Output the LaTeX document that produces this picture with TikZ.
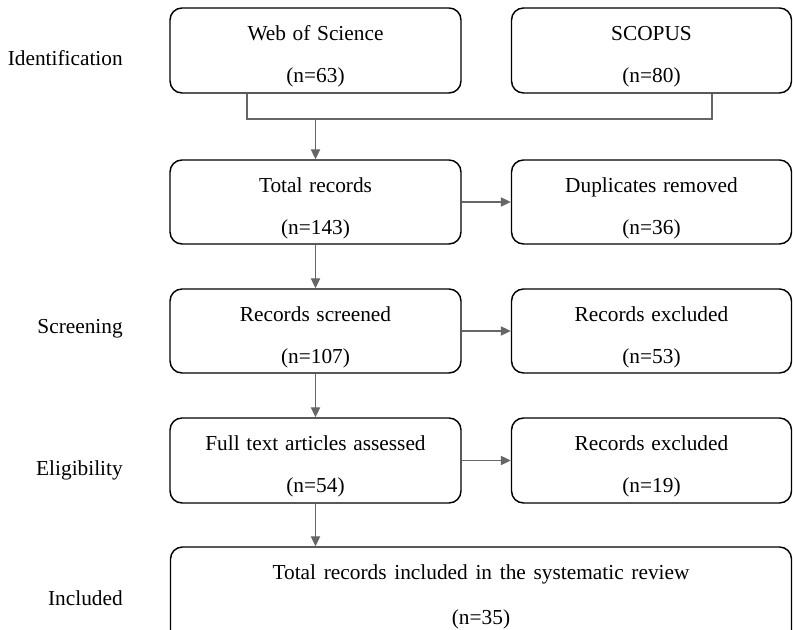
\documentclass[tikz,border=0pt]{standalone}
\usepackage{fontspec}
\setmainfont{Liberation Serif}
\usetikzlibrary{arrows.meta,calc}
\definecolor{conncol}{HTML}{666666}
\newcommand\twolines[3][20pt]{\rule{0pt}{#1}#2\\#3}
\newcommand\boxfont{\fontsize{16}{31.5}\selectfont\spaceskip 5pt plus 1pt minus 1pt\relax}
\newcommand\bigboxfont{\fontsize{16}{33.75}\selectfont\spaceskip 5.8pt plus 1pt minus 1pt\relax}
\tikzset{
  box/.style={draw=black, line width=1.1pt, rounded corners=9pt, align=center,
    inner sep=0pt, font=\boxfont, text=black},
  bigbox/.style={box, font=\bigboxfont},
  conn/.style={draw=conncol, line width=0.8pt},
  arr/.style={conn, -{Triangle[length=7.5pt,width=7pt,fill=conncol]}},
  phase/.style={anchor=east, inner sep=0pt, font=\fontsize{16}{19}\selectfont, text=black}
}
\begin{document}
\begin{tikzpicture}[x=0.75pt,y=-0.75pt]
\useasboundingbox[fill=white] (0,0) rectangle (793,630);
\clip (0,0) rectangle (793,630);
% phase labels
\node[phase] (lid) at (123,58) {Identification};
\node[phase] (lsc) at (123,329) {Screening};
\node[phase] (lel) at (123,470) {Eligibility};
\node[phase] (lin) at (123,598) {Included};
% boxes
\node[box, minimum width=291*0.75pt, minimum height=85*0.75pt] (wos) at (315.5,50.5) {\twolines{Web of Science}{(n=63)}};
\node[box, minimum width=280*0.75pt, minimum height=85*0.75pt] (sco) at (651.5,50.5) {\twolines{SCOPUS}{(n=80)}};
\node[box, minimum width=291*0.75pt, minimum height=84*0.75pt] (tot) at (315.5,202) {\twolines{Total records}{(n=143)}};
\node[box, minimum width=280*0.75pt, minimum height=84*0.75pt] (dup) at (651.5,202) {\twolines{Duplicates removed}{(n=36)}};
\node[box, minimum width=291*0.75pt, minimum height=84*0.75pt] (scr) at (315.5,331) {\twolines{Records screened}{(n=107)}};
\node[box, minimum width=280*0.75pt, minimum height=84*0.75pt] (ex1) at (651.5,331) {\twolines{Records excluded}{(n=53)}};
\node[box, minimum width=291*0.75pt, minimum height=85*0.75pt] (ful) at (315.5,460.5) {\twolines{Full text articles assessed}{(n=54)}};
\node[box, minimum width=280*0.75pt, minimum height=85*0.75pt] (ex2) at (651.5,460.5) {\twolines{Records excluded}{(n=19)}};
\node[bigbox, minimum width=621*0.75pt, minimum height=95*0.75pt] (inc) at (481,594.5) {\twolines[14.25pt]{Total records included in the systematic review}{(n=35)}};
% merge connector
\coordinate (wl) at (247,119);
\coordinate (sr) at (712,119);
\coordinate (m) at (315.5,119);
\draw[conn] (wos.south -| wl) -- (wl) -- (sr) -- (sco.south -| sr);
\draw[arr] (m) -- (tot.north);
% vertical flow
\draw[arr] (tot.south) -- (scr.north);
\draw[arr] (scr.south) -- (ful.north);
\draw[arr] (ful.south) -- (ful.south |- inc.north);
% horizontal
\draw[arr] (tot.east) -- (dup.west);
\draw[arr] (scr.east) -- (ex1.west);
\draw[arr] (ful.east) -- (ex2.west);
\end{tikzpicture}
\end{document}
